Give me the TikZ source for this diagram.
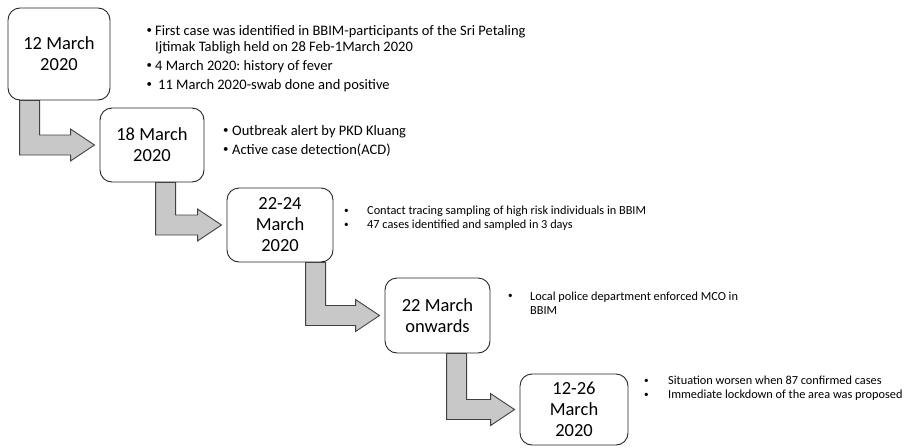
\documentclass[tikz,border=0pt]{standalone}
\usepackage{fontspec}
\setmainfont{Carlito}
\usepackage{graphicx}
\usepackage{tikz}
\usetikzlibrary{calc}

\definecolor{arrowgray}{HTML}{C8C8C8}
\definecolor{edgegray}{HTML}{404040}
\newcommand{\bul}[1]{\makebox[#1][l]{\raisebox{0.12em}{\scalebox{0.75}{\textbullet}}}}
\frenchspacing

\begin{document}
\begin{tikzpicture}[x=1pt, y=-1pt,
    datebox/.style={draw=black!85, line width=0.9pt, rounded corners=12pt, fill=white,
        align=center, inner sep=0pt, font=\fontsize{18.5}{21}\selectfont},
    notes/.style={anchor=base west, inner sep=0pt, align=left},
    bignotes/.style={notes, font=\fontsize{14.5}{16}\selectfont},
    smallnotes/.style={notes, font=\fontsize{12.3}{14}\selectfont},
    bentarrow/.style={draw=edgegray, line width=0.9pt, fill=arrowgray}]
        \useasboundingbox (0,0) rectangle (915,447);

        % Define nodes
        \node[datebox, minimum width=102pt, minimum height=92pt] (d1) at (59,54) {12 March\\2020};
        \node[datebox, minimum width=104pt, minimum height=74pt] (d2) at (152,145) {18 March\\2020};
        \node[datebox, minimum width=106pt, minimum height=74pt] (d3) at (280,225) {22-24\\March\\2020};
        \node[datebox, minimum width=105pt, minimum height=75pt] (d4) at (437.5,315.5) {22 March\\onwards};
        \node[datebox, minimum width=108pt, minimum height=71pt] (d5) at (574,409.5) {12-26\\March\\2020};

        \node[bignotes] (n1) at (146.5,35) {\begin{tabular}[t]{@{}l@{}l@{}}
            \bul{8.5pt} & First case was identified in BBIM-participants of the Sri Petaling\\
             & Ijtimak Tabligh held on 28 Feb-1March 2020\\[3pt]
            \bul{8.5pt} & 4 March 2020: history of fever\\[3pt]
            \bul{8.5pt} & \hspace{3pt}11 March 2020-swab done and positive
        \end{tabular}};
        \node[bignotes] (n2) at (223,135) {\begin{tabular}[t]{@{}l@{}l@{}}
            \bul{9pt} & Outbreak alert by PKD Kluang\\[3pt]
            \bul{9pt} & Active case detection(ACD)
        \end{tabular}};
        \node[smallnotes] (n3) at (344,214.5) {\begin{tabular}[t]{@{}l@{}l@{}}
            \bul{23pt} & Contact tracing sampling of high risk individuals in BBIM\\
            \bul{23pt} & 47 cases identified and sampled in 3 days
        \end{tabular}};
        \node[smallnotes] (n4) at (508,300) {\begin{tabular}[t]{@{}l@{}l@{}}
            \bul{22pt} & Local police department enforced MCO in\\
             & BBIM
        \end{tabular}};
        \node[smallnotes] (n5) at (644,384.5) {\begin{tabular}[t]{@{}l@{}l@{}}
            \bul{24pt} & Situation worsen when 87 confirmed cases\\
            \bul{24pt} & Immediate lockdown of the area was proposed
        \end{tabular}};

        % Draw edges
        \foreach \a/\b/\s in {d1/d2/12pt, d2/d3/56pt, d3/d4/79pt, d4/d5/62pt}
            \draw[bentarrow] let \p1=(\a.south west), \p2=(\b.west) in
                (\x1+\s,\y1) -- (\x1+\s+20pt,\y1) -- (\x1+\s+20pt,\y2+10pt)
                -- (\x2-29pt,\y2+10pt) -- (\x2-29pt,\y2+16pt) -- (\x2-5pt,\y2)
                -- (\x2-29pt,\y2-16pt) -- (\x2-29pt,\y2-10pt) -- (\x1+\s,\y2-10pt) -- cycle;
\end{tikzpicture}
\end{document}
